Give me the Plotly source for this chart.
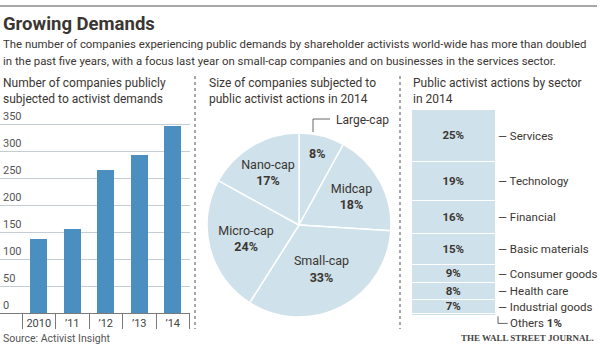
import plotly.graph_objects as go

# ---------------- data ----------------
years = ["2010", "\u201911", "\u201912", "\u201913", "\u201914"]
companies = [137, 156, 265, 293, 346]
y_ticks = [0, 50, 100, 150, 200, 250, 300, 350]

size_labels = ["Large-cap", "Midcap", "Small-cap", "Micro-cap", "Nano-cap"]
size_share = [8, 18, 33, 24, 17]

sectors = ["Services", "Technology", "Financial", "Basic materials",
           "Consumer goods", "Health care", "Industrial goods", "Others"]
sector_share = [25, 19, 16, 15, 9, 8, 7, 1]

# ---------------- style ----------------
W, H = 600, 348
FONT = "Roboto, sans-serif"
TXT = "#3b3632"
BAR_BLUE = "#4a8fc0"
LIGHT = "#cfe1ea"


def px(x):
    return x / W


def py(y):
    return 1 - y / H


fig = go.Figure()

# ---------------- left: bar chart ----------------
fig.add_trace(go.Bar(
    x=years, y=companies, width=0.5, marker=dict(color=BAR_BLUE, line=dict(width=0)),
    xaxis="x", yaxis="y", hoverinfo="skip", showlegend=False))

# ---------------- middle: pie ----------------
pie_text = []
for lab in size_labels:
    if lab == "Large-cap":
        pie_text.append("<b>%{value}%</b>")
    else:
        pie_text.append("%{label}<br><b>%{value}%</b>")

cx, cy, r = 299, 225, 92
fig.add_trace(go.Pie(
    labels=size_labels, values=size_share, sort=False, direction="clockwise",
    rotation=0, texttemplate=pie_text, textposition="inside",
    insidetextorientation="horizontal",
    textfont=dict(family=FONT, size=12.5, color=TXT),
    marker=dict(colors=[LIGHT] * len(size_labels), line=dict(color="white", width=1.5)),
    domain=dict(x=[px(cx - r), px(cx + r)], y=[py(cy + r), py(cy - r)]),
    hoverinfo="skip", showlegend=False))

# ---------------- right: stacked sector column ----------------
for name, v in zip(sectors, sector_share):
    fig.add_trace(go.Bar(
        x=[0], y=[v], width=1, name=name,
        text=["" if name == "Others" else f"<b>{v}%</b>"],
        textposition="inside", insidetextanchor="middle", constraintext="none",
        textfont=dict(family=FONT, size=11.5, color=TXT),
        marker=dict(color=LIGHT, line=dict(color="white", width=1.5)),
        xaxis="x3", yaxis="y3", hoverinfo="skip", showlegend=False))

ann = []
cum = 0
for name, v in zip(sectors, sector_share):
    mid = cum + v / 2
    cum += v
    if name == "Others":
        continue
    ann.append(dict(x=0.5, y=mid, xref="x3", yref="y3", xanchor="left", yanchor="middle",
                    text="\u2014 " + name, showarrow=False, xshift=0,
                    font=dict(family=FONT, size=11.5, color=TXT)))
# Others label below the column
ann.append(dict(x=0.5, y=103.6, xref="x3", yref="y3", xanchor="left", yanchor="middle",
                text="Others <b>1%</b>", showarrow=False, xshift=12,
                font=dict(family=FONT, size=11.5, color=TXT)))

shapes = []
# Others leader
shapes.append(dict(type="path", xref="x3", yref="y3",
                   path="M 0.524 100.2 L 0.524 103.6 L 0.64 103.6",
                   line=dict(color="#666", width=1)))
# Large-cap leader (pie)
shapes.append(dict(type="path", xref="paper", yref="paper",
                   path=f"M {px(313)} {py(132)} L {px(313)} {py(119)} L {px(330)} {py(119)}",
                   line=dict(color="#666", width=1)))
ann.append(dict(x=px(334), y=py(120), xref="paper", yref="paper", xanchor="left",
                yanchor="middle", text="Large-cap", showarrow=False,
                font=dict(family=FONT, size=12, color=TXT)))

# top rule
shapes.append(dict(type="line", xref="paper", yref="paper", x0=0, x1=px(597),
                   y0=py(6), y1=py(6), line=dict(color="#8a8a8a", width=1.5)))
# dotted separators
for xs in (195, 400):
    shapes.append(dict(type="line", xref="paper", yref="paper", x0=px(xs), x1=px(xs),
                       y0=py(76), y1=py(329), line=dict(color="#8a8a8a", width=1.5, dash="dot")))

# titles
ann.append(dict(x=px(1), y=py(24), xref="paper", yref="paper", xanchor="left", yanchor="middle",
                text="<b>Growing Demands</b>", showarrow=False,
                font=dict(family=FONT, size=18.5, color=TXT)))
ann.append(dict(x=px(1), y=py(44), xref="paper", yref="paper", xanchor="left", yanchor="middle",
                text="The number of companies experiencing public demands by shareholder activists world-wide has more than doubled",
                showarrow=False, font=dict(family=FONT, size=11.4, color=TXT)))
ann.append(dict(x=px(1), y=py(61), xref="paper", yref="paper", xanchor="left", yanchor="middle",
                text="in the past five years, with a focus last year on small-cap companies and on businesses in the services sector.",
                showarrow=False, font=dict(family=FONT, size=11.4, color=TXT)))

panel_titles = [
    (1, ["Number of companies publicly", "subjected to activist demands"]),
    (207, ["Size of companies subjected to", "public activist actions in 2014"]),
    (411, ["Public activist actions by sector", "in 2014"]),
]
for x0, lines in panel_titles:
    for i, line in enumerate(lines):
        ann.append(dict(x=px(x0), y=py(83 + 16 * i), xref="paper", yref="paper",
                        xanchor="left", yanchor="middle", text=line, showarrow=False,
                        font=dict(family=FONT, size=12, color=TXT)))

# footer
ann.append(dict(x=px(1), y=py(338), xref="paper", yref="paper", xanchor="left", yanchor="middle",
                text="Source: Activist Insight", showarrow=False,
                font=dict(family=FONT, size=10.5, color="#555")))
ann.append(dict(x=px(596), y=py(338), xref="paper", yref="paper", xanchor="right", yanchor="middle",
                text="<b>THE WALL STREET JOURNAL.</b>", showarrow=False,
                font=dict(family="Liberation Serif, DejaVu Serif, serif", size=9, color="#444")))

# left axis: 0 -> 313px, 350 -> 124px ; extend range so the top label stays visible
l_per = (313 - 124) / 350
l_top = 378
y1_top_px = 313 - l_top * l_per

# right axis ranges: 0 -> 110px, 100 -> 316px
px_per = (316 - 110) / 100
y3_bottom = 110 + 106 * px_per

fig.update_layout(
    width=W, height=H, margin=dict(l=0, r=0, t=0, b=0),
    paper_bgcolor="white", plot_bgcolor="rgba(0,0,0,0)",
    barmode="stack", bargap=0,
    font=dict(family=FONT, color=TXT),
    xaxis=dict(domain=[0, px(190)], type="category", range=[-1.157, 4.515],
               showgrid=False, zeroline=False, showline=True, linecolor="#7a7a7a", linewidth=1,
               ticks="outside", tickson="boundaries", ticklen=15, tickcolor="#7a7a7a",
               tickangle=0,
               tickfont=dict(family=FONT, size=11, color="#444"), fixedrange=True),
    yaxis=dict(domain=[py(313), py(y1_top_px)], range=[0, l_top], tickvals=y_ticks,
               showgrid=True, gridcolor="#c3cdd3", gridwidth=1, zeroline=False,
               showline=False, ticks="", ticklabelposition="inside top",
               tickfont=dict(family=FONT, size=11, color="#555"), fixedrange=True),
    xaxis3=dict(domain=[px(412), px(538)], range=[-0.5, 1.0], visible=False, fixedrange=True),
    yaxis3=dict(domain=[py(y3_bottom), py(110)], range=[106, 0], visible=False, fixedrange=True),
    annotations=ann, shapes=shapes,
)

fig.write_html("out.html")
